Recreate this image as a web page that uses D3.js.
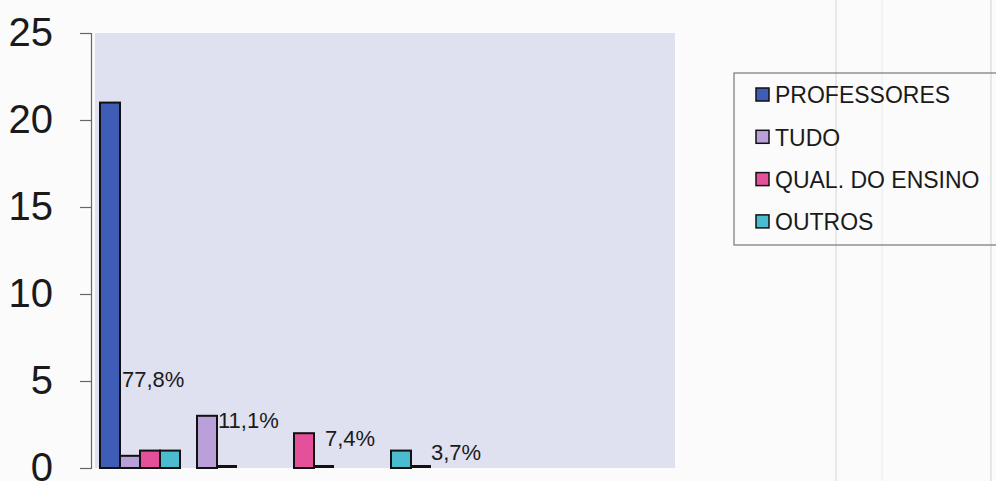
<!DOCTYPE html>
<html>
<head>
<meta charset="utf-8">
<script src="https://cdn.jsdelivr.net/npm/d3@7"></script>
<style>
  body { margin: 0; background: #fbfbfb; }
  svg { display: block; font-family: "Liberation Sans", Arial, sans-serif; }
</style>
</head>
<body>
<div id="chart"></div>
<script>
var seriesNames = ["PROFESSORES", "TUDO", "QUAL. DO ENSINO", "OUTROS"];
var seriesColors = ["#3f5db6", "#b9a0d8", "#e5509b", "#4bbccf"];

var groups = ["1", "2", "3", "4"];
// serie de cada barra do grupo (null = barra vazia, so o contorno)
var barSeries = [[0, 1, 2, 3], [1, null], [2, null], [3, null]];
var barValues = [[21, 0.7, 1, 1], [3, 0], [2, 0], [1, 0]];

var pctLabels = ["77,8%", "11,1%", "7,4%", "3,7%"];
var labelAt = [5.1, 2.75, 1.7, 0.9]; // altura (valor) do rotulo
var labelDx = [2, 1, 11, 20];

var yTicks = [0, 5, 10, 15, 20, 25];

var W = 996, H = 481;

var svg = d3.select("#chart").append("svg")
    .attr("width", W)
    .attr("height", H);

// linhas fracas do papel digitalizado
[836, 882, 991].forEach(function(x, i) {
    svg.append("line")
        .attr("x1", x).attr("x2", x)
        .attr("y1", 0).attr("y2", H)
        .attr("stroke", i == 1 ? "#f0f0f0" : "#e0e0e0")
        .attr("stroke-width", 1.5);
});

var y = d3.scaleLinear().domain([0, 25]).range([468, 33]);
var x = d3.scaleBand().domain(groups).range([100, 488]);
var slot = d3.scaleBand().domain([0, 1, 2, 3]).range([0, 80]);

// fundo da area do grafico
svg.append("rect")
    .attr("x", 95).attr("y", y(25))
    .attr("width", 675 - 95)
    .attr("height", y(0) - y(25))
    .attr("fill", "#dfe0f0");

// eixo y
var yAxis = d3.axisLeft(y).tickValues(yTicks).tickSize(11).tickPadding(27);
var gy = svg.append("g")
    .attr("transform", "translate(91,0)")
    .call(yAxis);
gy.select(".domain").attr("stroke", "#666").attr("stroke-width", 1.2);
gy.selectAll(".tick line").attr("stroke", "#666").attr("stroke-width", 1.2);
gy.selectAll(".tick text")
    .attr("font-size", "40px")
    .attr("fill", "#1a1a1a")
    .attr("font-family", "Liberation Sans, Arial, sans-serif");

// barras
groups.forEach(function(g, gi) {
    var gEl = svg.append("g").attr("transform", "translate(" + x(g) + ",0)");
    barSeries[gi].forEach(function(s, k) {
        var v = barValues[gi][k];
        if (s === null) {
            gEl.append("rect")
                .attr("x", slot(k))
                .attr("y", y(0) - 3)
                .attr("width", slot.bandwidth())
                .attr("height", 3)
                .attr("fill", "#111");
        } else {
            gEl.append("rect")
                .attr("x", slot(k))
                .attr("y", y(v))
                .attr("width", slot.bandwidth())
                .attr("height", y(0) - y(v))
                .attr("fill", seriesColors[s])
                .attr("stroke", "#111")
                .attr("stroke-width", 2);
        }
    });
    gEl.append("text")
        .attr("x", slot(0) + slot.bandwidth() + labelDx[gi])
        .attr("y", y(labelAt[gi]))
        .attr("dy", "0.36em")
        .attr("font-size", "22px")
        .attr("fill", "#1a1a1a")
        .text(pctLabels[gi]);
});

// legenda
var leg = svg.append("g");
leg.append("rect")
    .attr("x", 734).attr("y", 73)
    .attr("width", 300).attr("height", 172)
    .attr("fill", "none")
    .attr("stroke", "#777")
    .attr("stroke-width", 1.2);

seriesNames.forEach(function(name, i) {
    var cy = 95 + i * 42.3;
    leg.append("rect")
        .attr("x", 756).attr("y", cy - 7)
        .attr("width", 13).attr("height", 13)
        .attr("fill", seriesColors[i])
        .attr("stroke", "#111")
        .attr("stroke-width", 1.5);
    leg.append("text")
        .attr("x", 775).attr("y", cy)
        .attr("dy", "0.36em")
        .attr("font-size", "23px")
        .attr("fill", "#1a1a1a")
        .text(name);
});
</script>
</body>
</html>
